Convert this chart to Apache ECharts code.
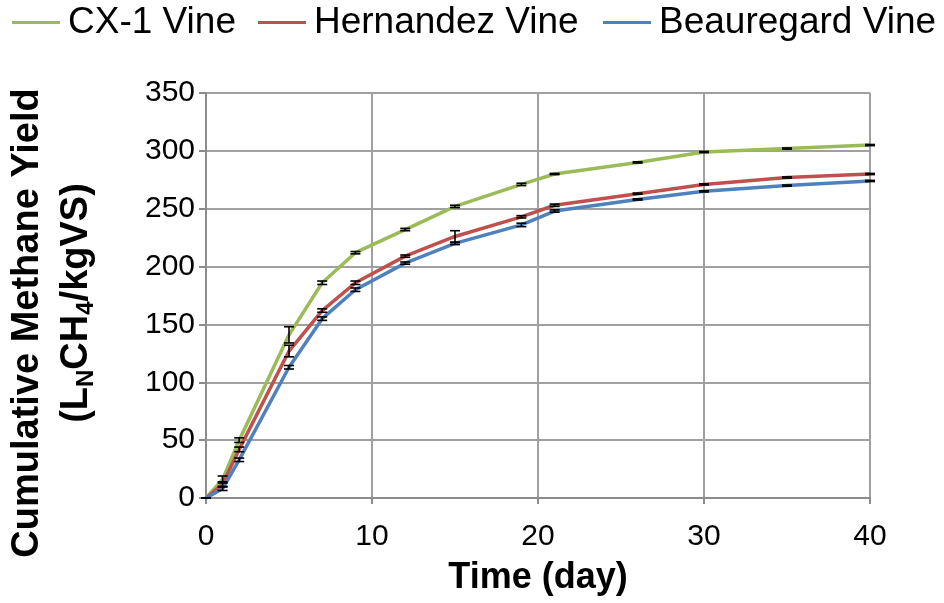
<!DOCTYPE html>
<html>
<head>
<meta charset="utf-8">
<script src="https://cdn.jsdelivr.net/npm/echarts@6/dist/echarts.min.js"></script>
<style>html,body{margin:0;padding:0;background:#fff;}#c{width:944px;height:603px;}</style>
</head>
<body>
<div id="c"></div>
<script>
var days = [0, 1, 2, 5, 7, 9, 12, 15, 19, 21, 26, 30, 35, 40];
var cx1 = [0, 16, 50, 141, 186, 212, 232, 252, 271, 280, 290, 299, 302, 305];
var hern = [0, 12, 42, 127, 162, 186, 209, 226, 243, 253, 263, 271, 277, 280];
var beau = [0, 8, 33, 113, 155, 180, 203, 220, 236, 248, 258, 265, 270, 274];
var cx1Err = [0, 3, 2, 7, 1.5, 1, 1, 1, 1, 0.5, 0.5, 0.5, 0.5, 0.5];
var hernErr = [0, 2, 2, 5, 1.5, 1.5, 1, 5, 1, 1, 0.5, 0.5, 0.5, 0.5];
var beauErr = [0, 1.5, 1.5, 1.5, 1.5, 1.5, 1, 1, 1.5, 1, 0.5, 0.5, 0.5, 0.5];
var names = ['CX-1 Vine', 'Hernandez Vine', 'Beauregard Vine'];
var colors = ['#9BBB59', '#C0504D', '#4F81BD'];
var xTicks = [0, 10, 20, 30, 40];
var yTicks = [0, 50, 100, 150, 200, 250, 300, 350];

var FONT = '"Liberation Sans", Arial, sans-serif';
function pairs(v) { return days.map(function (d, i) { return [d, v[i]]; }); }
function errData(v, e) { return days.map(function (d, i) { return [d, v[i] - e[i], v[i] + e[i]]; }); }
function errSeries(v, e) {
  return {
    type: 'custom', silent: true, z: 5,
    data: errData(v, e),
    renderItem: function (params, api) {
      var lo = api.coord([api.value(0), api.value(1)]);
      var hi = api.coord([api.value(0), api.value(2)]);
      var w = 5;
      var st = { stroke: '#000', lineWidth: 1.6 };
      return { type: 'group', children: [
        { type: 'line', shape: { x1: lo[0], y1: lo[1], x2: hi[0], y2: hi[1] }, style: st },
        { type: 'line', shape: { x1: lo[0] - w, y1: lo[1], x2: lo[0] + w, y2: lo[1] }, style: st },
        { type: 'line', shape: { x1: hi[0] - w, y1: hi[1], x2: hi[0] + w, y2: hi[1] }, style: st }
      ]};
    }
  };
}
function lineSeries(name, v, color) {
  return { name: name, type: 'line', data: pairs(v), symbol: 'none', z: 3,
    lineStyle: { color: color, width: 3.5 }, itemStyle: { color: color } };
}
function legendAt(name, left) {
  return {
    data: [name], top: 4, left: left, padding: 0, itemWidth: 48, itemHeight: 14,
    icon: 'path://M0,6 L48,6 L48,9 L0,9 Z',
    textStyle: { fontSize: 37, color: '#000', fontFamily: FONT, padding: [0, 0, 0, 3] }
  };
}

var chart = echarts.init(document.getElementById('c'));
chart.setOption({
  animation: false,
  color: colors,
  textStyle: { fontFamily: FONT },
  legend: [legendAt(names[0], 12), legendAt(names[1], 258), legendAt(names[2], 603)],
  grid: { left: 206, right: 74, top: 93, bottom: 105, containLabel: false },
  xAxis: {
    type: 'value', min: 0, max: 40, interval: 10,
    name: 'Time (day)', nameLocation: 'middle', nameGap: 62,
    nameTextStyle: { fontSize: 36, fontWeight: 'bold', color: '#000', fontFamily: FONT },
    axisLine: { lineStyle: { color: '#8c8c8c', width: 2 } },
    axisTick: { show: true, inside: false, length: 6, lineStyle: { color: '#8c8c8c', width: 2 } },
    axisLabel: { fontSize: 30, color: '#000', margin: 24, fontFamily: FONT,
      formatter: function (v) { return xTicks.indexOf(v) >= 0 ? String(v) : ''; } },
    splitLine: { show: true, lineStyle: { color: '#a0a0a0', width: 2 } }
  },
  yAxis: {
    type: 'value', min: 0, max: 350, interval: 50,
    axisLine: { show: true, lineStyle: { color: '#8c8c8c', width: 2 } },
    axisTick: { show: true, inside: false, length: 7, lineStyle: { color: '#8c8c8c', width: 2 } },
    axisLabel: { fontSize: 30, color: '#000', margin: 11, fontFamily: FONT,
      formatter: function (v) { return yTicks.indexOf(v) >= 0 ? String(v) : ''; } },
    splitLine: { show: true, lineStyle: { color: '#a0a0a0', width: 2 } }
  },
  graphic: [
    { type: 'text', x: 28, y: 323, rotation: Math.PI / 2,
      style: { text: 'Cumulative Methane Yield', font: 'bold 38px ' + FONT, fill: '#000',
        align: 'center', verticalAlign: 'middle' } },
    { type: 'text', x: 77, y: 303, rotation: Math.PI / 2,
      style: { text: '{a|(L}{s|N}{a|CH}{s|4}{a|/kgVS)}', fill: '#000',
        align: 'center', verticalAlign: 'middle',
        rich: {
          a: { fontSize: 38, fontWeight: 'bold', fontFamily: FONT, lineHeight: 42, verticalAlign: 'middle' },
          s: { fontSize: 24, fontWeight: 'bold', fontFamily: FONT, lineHeight: 24, verticalAlign: 'bottom' }
        } } }
  ],
  series: [
    lineSeries(names[0], cx1, colors[0]),
    lineSeries(names[1], hern, colors[1]),
    lineSeries(names[2], beau, colors[2]),
    errSeries(cx1, cx1Err),
    errSeries(hern, hernErr),
    errSeries(beau, beauErr)
  ]
});
</script>
</body>
</html>
